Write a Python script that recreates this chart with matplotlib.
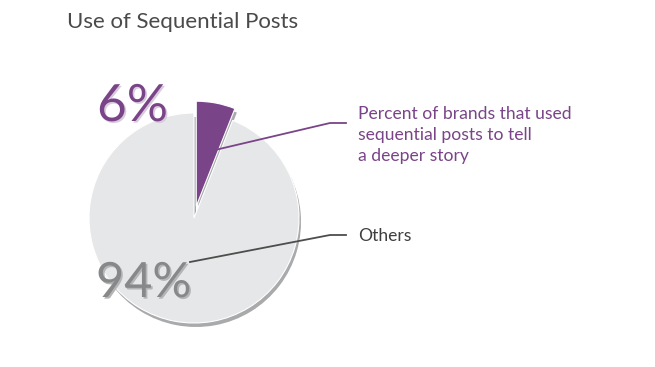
import matplotlib

matplotlib.use("Agg")
import matplotlib.pyplot as plt
import matplotlib.patheffects as pe

TITLE = "Use of Sequential Posts"
LABELS = ["Percent of brands that used\nsequential posts to tell\na deeper story", "Others"]
SHARES = [6, 94]
PCT_TEXT = ["6%", "94%"]

PURPLE = "#7A4488"
LIGHT = "#E6E7E8"
SHADOW = "#A9AAAC"
W, H = 655, 367

plt.rcParams["font.family"] = ["Lato", "DejaVu Sans"]

fig = plt.figure(figsize=(W / 100, H / 100), dpi=100)
ax = fig.add_axes([0, 0, 1, 1])

cx, cy, r = 194, H - 218, 105
# pie explode is in data units here (radius is 105), so this is ~12 px
explode = [12, 0]

# shadow pie, slightly down and right
ax.pie(SHARES, startangle=90, counterclock=False, radius=r, center=(cx + 2, cy - 4),
       colors=[SHADOW, SHADOW], explode=explode, frame=True,
       wedgeprops={"linewidth": 0})
ax.pie(SHARES, startangle=90, counterclock=False, radius=r, center=(cx, cy),
       colors=[PURPLE, LIGHT], explode=explode, frame=True,
       wedgeprops={"linewidth": 0.8, "edgecolor": "white"})
ax.set_xlim(0, W)
ax.set_ylim(0, H)
ax.set_aspect("equal")
ax.axis("off")

# leader lines
ax.plot([215, 330, 346], [H - 150, H - 123, H - 123], color=PURPLE, lw=1.3)
ax.plot([190, 330, 346], [H - 262, H - 235, H - 235], color="#4D4D4D", lw=1.3)

ax.text(358, H - 135, LABELS[0], color=PURPLE, fontsize=12.6, va="center", ha="left",
        linespacing=1.4)
ax.text(358, H - 236, LABELS[1], color="#3F3F3F", fontsize=12.6, va="center", ha="left")

ax.text(97, H - 107, PCT_TEXT[0], color=PURPLE, fontsize=37, va="center", ha="left",
        path_effects=[pe.withSimplePatchShadow(offset=(1.2, -1.2), shadow_rgbFace="#D8CCDC", alpha=1)])
ax.text(96, H - 283, PCT_TEXT[1], color="#87888A", fontsize=35, va="center", ha="left",
        path_effects=[pe.withSimplePatchShadow(offset=(1.2, -1.2), shadow_rgbFace="#B5B5B5", alpha=1)])

fig.text(67 / W, 1 - 22 / H, TITLE, color="#4A4A4A", fontsize=16, va="center", ha="left")

fig.savefig("out.png", dpi=100)
